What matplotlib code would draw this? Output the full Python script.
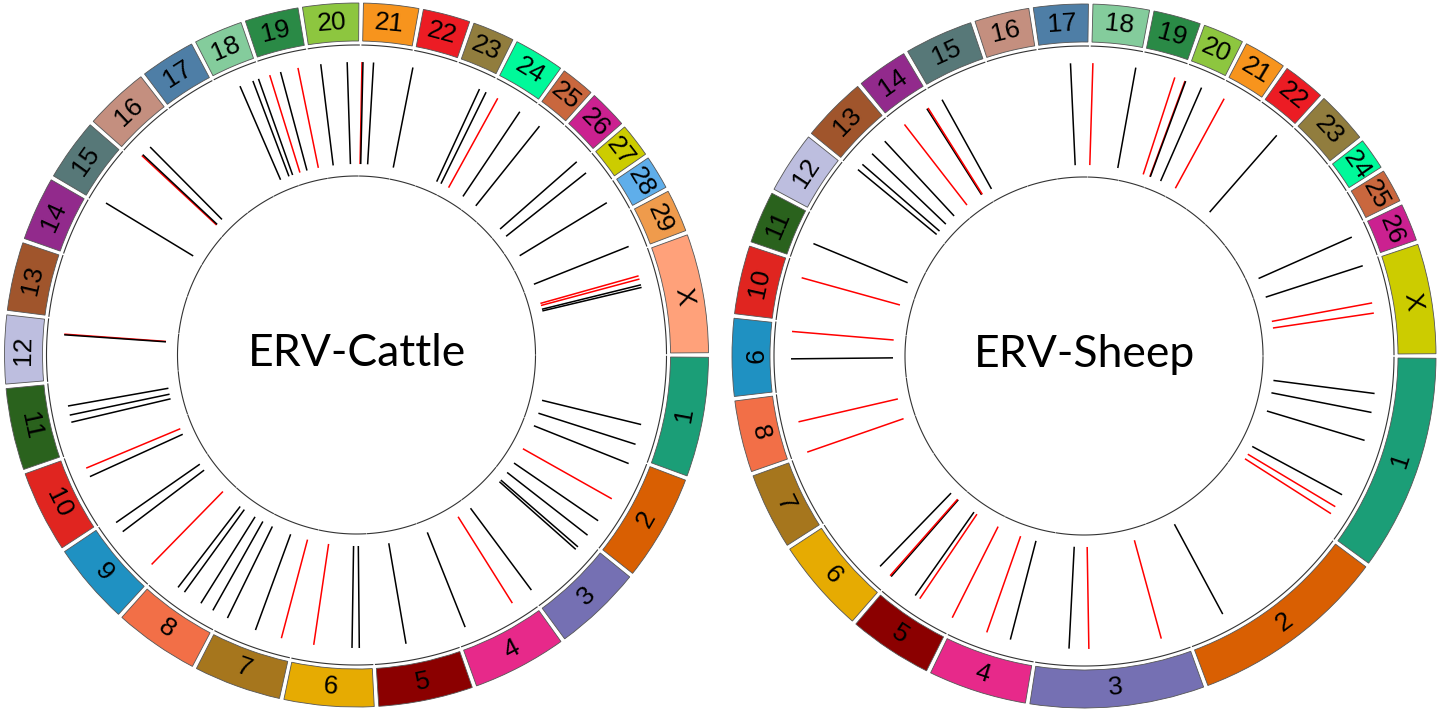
import numpy as np
import matplotlib.pyplot as plt

# chromosome names and lengths (Mb) as drawn in the two ideograms
cattle_chroms = [str(i) for i in range(1, 30)] + ['X']
cattle_sizes = [154, 137, 115, 122, 122, 116, 113, 110, 106, 106, 106, 89, 89, 83, 81,
                84, 72, 64, 70, 73, 72, 62, 55, 66, 45, 51, 45, 45, 56, 153]
sheep_chroms = [str(i) for i in range(1, 27)] + ['X']
sheep_sizes = [268, 245, 216, 123, 105, 118, 96, 90, 97, 86, 66, 78, 82, 65, 86, 69,
               69, 71, 60, 52, 54, 54, 66, 41, 43, 48, 137]

chrom_colors = ['#1b9e77', '#d95f02', '#7570b3', '#e7298a', '#8b0000', '#e6ab02',
                '#a6761d', '#f26f47', '#1f91c2', '#e02520', '#2a621d', '#bdbedf',
                '#a0552c', '#922a8c', '#577878', '#c48f7f', '#4e7ea6', '#84cc9c',
                '#2a8a46', '#8dc63f', '#f7941d', '#ec1c24', '#917d3e', '#00f99a',
                '#c9673e', '#cb2190', '#cccc00', '#5faeea', '#ef9b4c', '#ffa17a']

# ERV loci: chromosome, position (Mb), kind (0 = black, 1 = red)
cattle_erv_chr = ['1', '1', '2', '2', '2', '2', '3', '3', '3', '4', '4', '5', '6', '6', '6',
                  '7', '7', '7', '8', '8', '8', '8', '9', '9', '9', '10', '10', '11', '11',
                  '11', '12', '12', '15', '16', '16', '16', '18', '18', '18', '19', '19',
                  '19', '20', '20', '21', '21', '21', '22', '23', '23', '24', '24', '25',
                  '26', '27', '28', '29', 'X', 'X', 'X', 'X']
cattle_erv_mb = [104, 135, 8, 67, 106, 133, 15, 20, 111, 27, 107, 74, 19, 30, 88,
                 18, 59, 105, 13, 34, 64, 76, 15, 81, 98, 68, 82, 45, 56,
                 70, 69, 68, 6, 11, 13, 29, 30, 51, 60, 10, 27,
                 54, 15, 55, 0.5, 2, 18, 2, 42, 53, 14, 53, 20,
                 49, 16, 22, 47, 34, 39, 48, 52]
cattle_erv_kind = [0, 0, 0, 1, 0, 0, 0, 0, 0, 1, 0, 0, 0, 0, 1,
                   1, 0, 0, 0, 0, 0, 0, 1, 0, 0, 0, 1, 0, 0,
                   0, 1, 0, 0, 1, 0, 0, 0, 0, 0, 1, 0,
                   1, 0, 0, 1, 0, 0, 0, 0, 0, 1, 0, 0,
                   0, 0, 0, 0, 1, 1, 0, 0]

sheep_erv_chr = ['1', '1', '1', '1', '1', '1', '2', '3', '3', '3', '4', '4', '5', '5', '5',
                 '6', '6', '6', '8', '8', '9', '9', '10', '11', '13', '13', '13', '13',
                 '14', '14', '14', '15', '17', '18', '18', '19', '20', '20', '20', '21',
                 '22', '26', 'X', 'X', 'X']
sheep_erv_mb = [53, 81, 123, 209, 229, 241, 187, 35, 142, 171, 38, 74, 2, 57, 65,
                1, 3, 23, 1, 47, 46, 86, 65, 28, 3, 13, 34, 60,
                52, 54, 12, 9, 43, 3, 66, 50, 2, 3, 28, 9,
                45, 12, 5, 61, 76]
sheep_erv_kind = [0, 0, 0, 0, 1, 1, 0, 1, 1, 0, 0, 1, 1, 1, 0,
                  0, 1, 0, 1, 1, 0, 1, 1, 0, 0, 0, 0, 0,
                  0, 1, 1, 0, 0, 1, 0, 1, 1, 0, 0, 1,
                  0, 0, 0, 1, 1]
kind_colors = ['black', 'red']

GAP = 0.5              # degrees between chromosomes
R_MAX = 356
R_BAND = (314, 352)
R_TRACK = (179, 310)
R_ERV = (191, 293)


def draw_genome(rect, title, chroms, sizes, erv_chr, erv_mb, erv_kind):
    ax = fig.add_axes(rect, projection='polar')
    ax.set_theta_zero_location('E')
    ax.set_theta_direction(-1)
    ax.set_ylim(0, R_MAX)
    ax.set_axis_off()

    scale = (360 - GAP * len(sizes)) / sum(sizes)
    starts = np.cumsum([0] + sizes[:-1]) * scale + GAP * (np.arange(len(sizes)) + 0.5)

    for i, (name, size) in enumerate(zip(chroms, sizes)):
        a0, span = starts[i], size * scale
        # band drawn a touch narrower so the white gaps read like the original
        ax.bar(np.radians(a0 + 0.12), R_BAND[1] - R_BAND[0],
               width=np.radians(span - 0.24), bottom=R_BAND[0], align='edge',
               color=chrom_colors[i], edgecolor='#555555', linewidth=0.6)
        th = np.radians(np.linspace(a0, a0 + span, 80))
        for r in R_TRACK:
            ax.plot(th, np.full_like(th, r), color='#333333', lw=0.8)
        ang = -(a0 + span / 2)  # screen angle of the block centre
        rot = ang - 90 if np.sin(np.radians(ang)) >= 0 else ang + 90
        ax.text(np.radians(a0 + span / 2), sum(R_BAND) / 2, name, rotation=rot,
                rotation_mode='anchor', ha='center', va='center', fontsize=19,
                family='Liberation Sans')

    index = {c: i for i, c in enumerate(chroms)}
    for c, mb, k in zip(erv_chr, erv_mb, erv_kind):
        a = np.radians(starts[index[c]] + mb * scale)
        ax.plot([a, a], R_ERV, color=kind_colors[k], lw=1.1, solid_capstyle='butt')

    ax.text(np.radians(90), 11, title, ha='center', va='baseline', fontsize=32,
            family='Lato')


fig = plt.figure(figsize=(14.4, 7.13), dpi=100)
draw_genome([0.5 / 1440, 2 / 713, 712 / 1440, 712 / 713], 'ERV-Cattle',
            cattle_chroms, cattle_sizes, cattle_erv_chr, cattle_erv_mb, cattle_erv_kind)
draw_genome([728 / 1440, 1 / 713, 712 / 1440, 712 / 713], 'ERV-Sheep',
            sheep_chroms, sheep_sizes, sheep_erv_chr, sheep_erv_mb, sheep_erv_kind)
fig.savefig('out.png', dpi=100, facecolor='white')
